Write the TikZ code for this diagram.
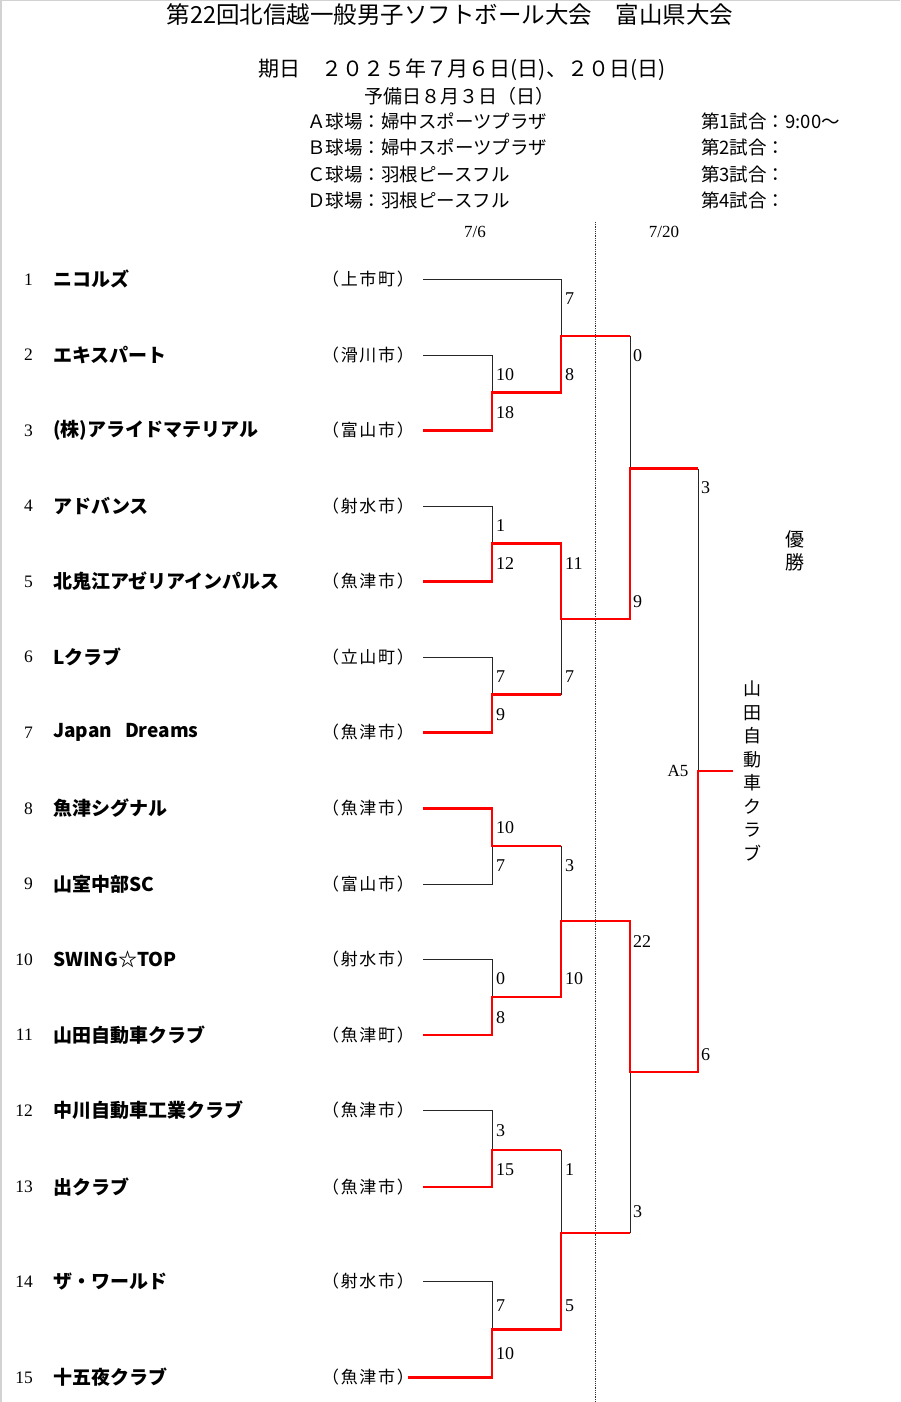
\documentclass[tikz,border=0pt]{standalone}
\usepackage{fontspec}
\setmainfont{Liberation Serif}
\newfontfamily\jp{Noto Sans CJK JP}
\newfontfamily\jpwide{Noto Sans CJK JP}[LetterSpace=10]

\begin{document}
\begin{tikzpicture}[x=1pt,y=-1pt,
		lose/.style={draw=black!85,line width=1pt},
		win/.style={draw=red,line width=2.8pt},
		score/.style={anchor=west,inner sep=0pt,font=\fontsize{18}{18}\selectfont},
		head/.style={inner sep=0pt,font=\jp\fontsize{18.5}{22}\selectfont}]
		\useasboundingbox (0,0) rectangle (900,1402);
		\draw[gray!35,line width=1.5pt] (0.75,1402) -- (0.75,0.75) -- (900,0.75);
		
		% header
		\node[head,font=\jp\fontsize{23.5}{28}\selectfont] (title) at (450,15) {第22回北信越一般男子ソフトボール大会　富山県大会};
		\node[head,font=\jp\fontsize{21}{24}\selectfont] (date) at (462,70) {期日　２０２５年７月６日(日)、２０日(日)};
		\node[head,font=\jp\fontsize{19}{22}\selectfont] (spare) at (459,96) {予備日８月３日（日）};
		\node[head,anchor=west] (fA) at (307,121) {Ａ球場：婦中スポーツプラザ};
		\node[head,anchor=west] (fB) at (307,147) {Ｂ球場：婦中スポーツプラザ};
		\node[head,anchor=west] (fC) at (307,174) {Ｃ球場：羽根ピースフル};
		\node[head,anchor=west] (fD) at (307,200) {Ｄ球場：羽根ピースフル};
		\node[head,anchor=west] (gA) at (701,121) {第1試合：9:00～};
		\node[head,anchor=west] (gB) at (701,147) {第2試合：};
		\node[head,anchor=west] (gC) at (701,174) {第3試合：};
		\node[head,anchor=west] (gD) at (701,200) {第4試合：};
		\node[font=\fontsize{17}{17}\selectfont] (day1) at (475,232) {7/6};
		\node[font=\fontsize{17}{17}\selectfont] (day2) at (664,232) {7/20};
		
		\coordinate (d1) at (595,222);
		\coordinate (d2) at (595,1402);
		\draw[densely dotted,black!80,line width=0.8pt] (d1) -- (d2);
		
		% teams
		\foreach \n/\y/\team/\city in {1/279.3/ニコルズ/上市町, 2/355/エキスパート/滑川市,
			3/430.5/(株)アライドマテリアル/富山市, 4/506/アドバンス/射水市,
			5/581.5/北鬼江アゼリアインパルス/魚津市, 6/657/Lクラブ/立山町,
			7/732.5/Japan\hspace{13pt}Dreams/魚津市, 8/808.5/魚津シグナル/魚津市,
			9/884/山室中部SC/富山市, 10/959.5/SWING☆TOP/射水市,
			11/1035/山田自動車クラブ/魚津町, 12/1110.5/中川自動車工業クラブ/魚津市,
			13/1187/出クラブ/魚津市, 14/1281.5/ザ・ワールド/射水市,
			15/1377.5/十五夜クラブ/魚津市} {
			\node[anchor=east,inner sep=0pt,font=\fontsize{17.5}{17.5}\selectfont] (n\n) at (33,\y) {\n};
			\node[anchor=west,inner sep=0pt,font=\jp\bfseries\fontsize{19}{19}\selectfont] (t\n) at (53,\y) {\team};
			\node[inner sep=0pt,font=\jpwide\fontsize{17}{17}\selectfont] (c\n) at (368,\y) {（\city）};
			\coordinate (p\n) at (423,\y);
		}
		\coordinate (p15) at (408,1377.5);
		
		% match corners
		\coordinate (m1) at (492,392.5);
		\coordinate (m2) at (492,543.5);
		\coordinate (m3) at (492,694.5);
		\coordinate (m4) at (492,846);
		\coordinate (m5) at (492,997);
		\coordinate (m6) at (492,1150);
		\coordinate (m7) at (492,1329.5);
		\coordinate (q1) at (561,336);
		\coordinate (q2) at (561,619);
		\coordinate (q3) at (561,921);
		\coordinate (q4) at (561,1233);
		\coordinate (s1) at (630,468.5);
		\coordinate (s2) at (630,1072);
		\coordinate (f) at (698,771);
		\coordinate (w) at (733,771);
		
		\draw[lose] (p1) -| (q1);
		\draw[lose] (p2) -| (m1);
		\draw[lose] (p4) -| (m2);
		\draw[lose] (p6) -| (m3);
		\draw[lose] (p9) -| (m4);
		\draw[lose] (p10) -| (m5);
		\draw[lose] (p12) -| (m6);
		\draw[lose] (p14) -| (m7);
		\draw[lose] (m3 -| q2) -- (q2);
		\draw[lose] (m4 -| q3) -- (q3);
		\draw[lose] (m6 -| q4) -- (q4);
		\draw[lose] (q1 -| s1) -- (s1);
		\draw[lose] (q4 -| s2) -- (s2);
		\draw[lose] (s1 -| f) -- (f);
		
		\draw[win] (p3) -| (m1) -| (q1) -- (q1 -| s1);
		\draw[win] (p5) -| (m2) -| (q2) -| (s1) -- (s1 -| f);
		\draw[win] (p7) -| (m3) -- (m3 -| q2);
		\draw[win] (p8) -| (m4) -- (m4 -| q3);
		\draw[win] (p11) -| (m5) -| (q3) -| (s2) -| (f) -- (w);
		\draw[win] (p13) -| (m6) -- (m6 -| q4);
		\draw[win] (p15) -| (m7) -| (q4) -- (q4 -| s2);
		
		% scores
		\foreach \x/\y/\s [count=\i] in {496/375/10, 496/413/18, 496/526/1, 496/564/12,
			496/677/7, 496/715/9, 496/828/10, 496/866/7, 496/979/0, 496/1017.5/8,
			496/1131/3, 496/1170/15, 496/1306/7, 496/1354/10,
			565/299/7, 565/375/8, 565/564/11, 565/677/7, 565/866/3, 565/979/10,
			565/1170/1, 565/1306/5,
			633/356/0, 633/602/9, 633/941.5/22, 633/1211.5/3,
			701/488/3, 701/1055/6}
			\node[score] (sc\i) at (\x,\y) {\s};
		\node[font=\fontsize{17}{17}\selectfont] (a5) at (678,771) {A5};
		
		\node[align=center,inner sep=0pt,font=\jp\fontsize{19}{23}\selectfont] (yusho) at (795,551) {優\\勝};
		\node[align=center,inner sep=0pt,font=\jp\fontsize{18}{23.5}\selectfont] (champ) at (752,771) {山\\田\\自\\動\\車\\ク\\ラ\\ブ};
		
	\end{tikzpicture}
\end{document}
